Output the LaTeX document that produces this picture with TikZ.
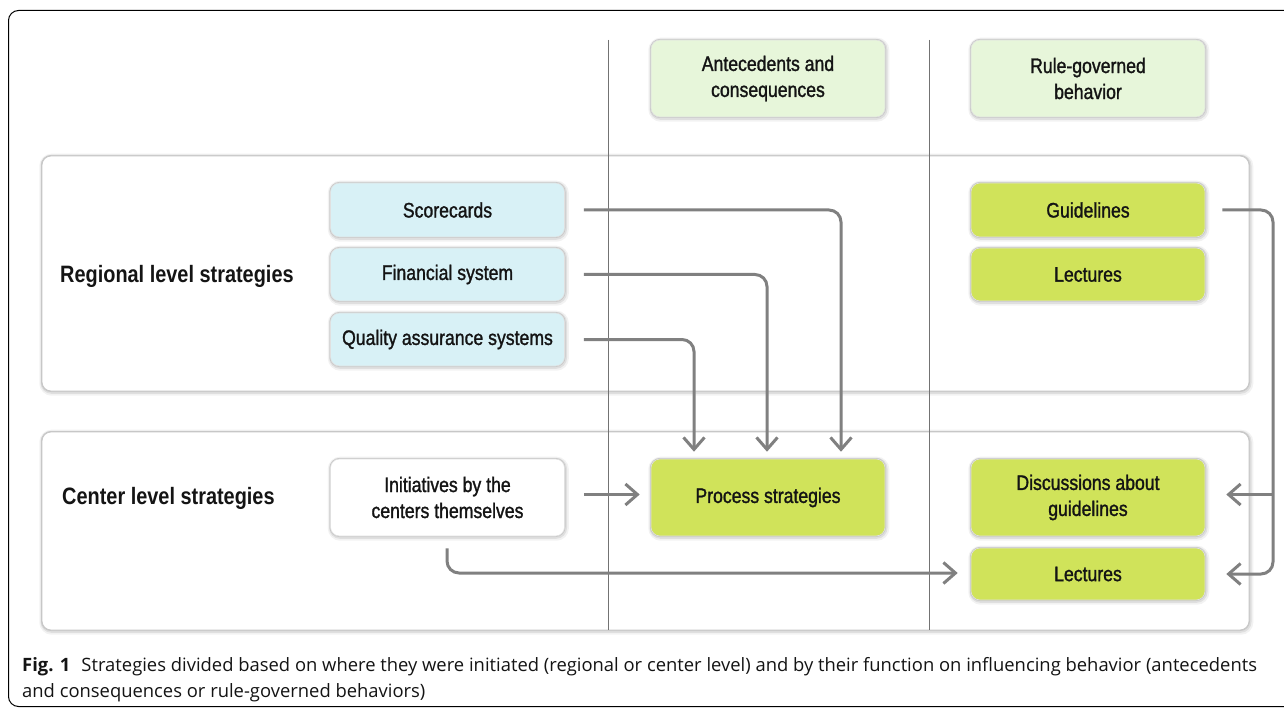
\documentclass[tikz,border=0pt]{standalone}
\usepackage{fontspec}
\usetikzlibrary{arrows.meta,calc}
\newfontfamily\boxfont[FakeStretch=0.84,FakeBold=1.3]{Liberation Sans}
\newfontfamily\lvlfont[FakeStretch=0.84]{Liberation Sans}
\newfontfamily\capfont{Open Sans}
\definecolor{hdrgreen}{HTML}{E7F6DA}
\definecolor{boxblue}{HTML}{D8F1F6}
\definecolor{boxlime}{HTML}{D0E35A}
\definecolor{arrgray}{HTML}{808080}
\definecolor{txt}{HTML}{141414}
\tikzset{
  glow/.style={preaction={draw=black,draw opacity=0.05,line width=7pt,transform canvas={xshift=0.8pt,yshift=-1.2pt}},
               preaction={draw=black,draw opacity=0.08,line width=4pt,transform canvas={xshift=0.5pt,yshift=-0.8pt}},
               preaction={draw=black,draw opacity=0.10,line width=2pt}},
  panel/.style={rectangle,rounded corners=9pt,fill=white,draw=black!22,line width=0.8pt,glow},
  stratbox/.style={rectangle,rounded corners=9pt,draw=black!12,line width=0.6pt,glow,
    minimum width=234pt,align=center,text=txt,font=\boxfont\fontsize{21}{26}\selectfont,inner sep=0pt},
  hdr/.style={stratbox,fill=hdrgreen,minimum height=77pt},
  bluebox/.style={stratbox,fill=boxblue,minimum height=54pt},
  limebox/.style={stratbox,fill=boxlime},
  lvl/.style={anchor=west,text=txt,font=\lvlfont\bfseries\fontsize{23.7}{28}\selectfont,inner sep=0pt},
  divider/.style={draw=black!55,line width=0.9pt},
  arr/.style={draw=arrgray,line width=3pt,rounded corners=12pt,
    -{Straight Barb[length=12pt,width=21pt,line width=3pt]}}
}
\begin{document}
\begin{tikzpicture}[x=1pt,y=-1pt]
\useasboundingbox (0,0) rectangle (1284,708);
\fill[white] (0,0) rectangle (1284,708);
% outer frame
\draw[black,line width=1pt,rounded corners=10pt] (1290,10.5) -- (8.5,10.5) -- (8.5,706.5) -- (1290,706.5);
% panels
\node[panel,minimum width=1207pt,minimum height=235pt] (preg) at (645.5,273.5) {};
\node[panel,minimum width=1207pt,minimum height=198pt] (pcen) at (645.5,531) {};
% dividers
\coordinate (d1t) at (608,40); \coordinate (d1b) at (608,630);
\coordinate (d2t) at (929,40); \coordinate (d2b) at (929,630);
\draw[divider] (d1t) -- (d1b);
\draw[divider] (d2t) -- (d2b);
% headers
\node[hdr] (hA) at (768,78.5) {Antecedents and\\consequences};
\node[hdr] (hR) at (1088,78.5) {Rule-governed\\behavior};
% level labels
\node[lvl] (lreg) at (60,276) {Regional level strategies};
\node[lvl] (lcen) at (62,498) {Center level strategies};
% regional boxes
\node[bluebox] (sc) at (447.5,210) {Scorecards};
\node[bluebox,minimum height=53pt] (fin) at (447.5,274.5) {Financial system};
\node[bluebox,minimum height=53pt] (qa) at (447.5,339.5) {Quality assurance systems};
\node[limebox,minimum height=54pt] (gl) at (1088,210) {Guidelines};
\node[limebox,minimum height=53pt] (lec1) at (1088,274.5) {Lectures};
% center boxes
\node[stratbox,fill=white,minimum height=77pt] (ini) at (447.5,497.5) {Initiatives by the\\centers themselves};
\node[limebox,minimum height=77pt] (ps) at (768,497.5) {Process strategies};
\node[limebox,minimum height=77pt] (disc) at (1088,497.5) {Discussions about\\guidelines};
\node[limebox,minimum height=52pt] (lec2) at (1088,574) {Lectures};
% arrows
\draw[arr] ([xshift=19pt]sc.east) -| ([xshift=73pt,yshift=7pt]ps.north);
\draw[arr] ([xshift=19pt]fin.east) -| ([xshift=-1pt,yshift=7pt]ps.north);
\draw[arr] ([xshift=19pt]qa.east) -| ([xshift=-74pt,yshift=7pt]ps.north);
\draw[arr] ([xshift=19pt,yshift=3pt]ini.east) -- ([xshift=-11pt,yshift=3pt]ps.west);
\draw[arr] ([xshift=-0.5pt,yshift=-12pt]ini.south) |- ([xshift=-13pt,yshift=1pt]lec2.west);
\coordinate (rail) at (1273,210);
\coordinate (discin) at ([xshift=21pt,yshift=3pt]disc.east);
\draw[arr] ([xshift=17pt]gl.east) -| (rail |- lec2.east) -- ([xshift=21pt]lec2.east);
\draw[arr] (rail |- discin) -- (discin);
% caption
\node[anchor=base west,inner sep=0pt,text=txt,font=\capfont\fontsize{18.4}{22}\selectfont] (cap1) at (22,671)
  {\textbf{Fig. 1}\hspace{0.6em}Strategies divided based on where they were initiated (regional or center level) and by their function on influencing behavior (antecedents};
\node[anchor=base west,inner sep=0pt,text=txt,font=\capfont\fontsize{18.4}{22}\selectfont] (cap2) at (22,697)
  {and consequences or rule-governed behaviors)};
\end{tikzpicture}
\end{document}
